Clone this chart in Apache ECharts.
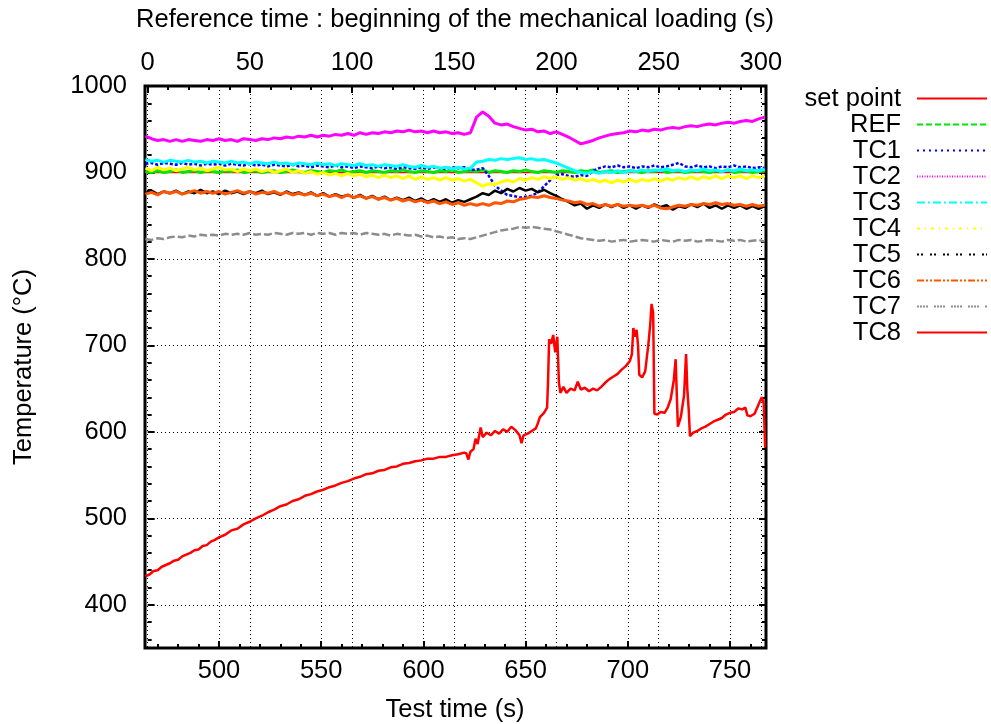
<!DOCTYPE html>
<html><head><meta charset="utf-8">
<script src="https://cdn.jsdelivr.net/npm/echarts@6/dist/echarts.min.js"></script>
<style>html,body{margin:0;padding:0;background:#fff}#c{width:991px;height:724px}</style>
</head><body><div id="c"></div>
<script>
// ---- sampling grid (test time, s) for the thermocouple records ----
const time = [
 464,467,470,473,476,479,482,485,488,491,
 494,497,500,503,506,509,512,515,518,521,
 524,527,530,533,536,539,542,545,548,551,
 554,557,560,563,566,569,572,575,578,581,
 584,587,590,593,596,599,602,605,608,611,
 614,617,620,623,626,629,632,635,638,641,
 644,647,650,653,656,659,662,665,668,671,
 674,677,680,683,686,689,692,695,698,701,
 704,707,710,713,716,719,722,725,728,731,
 734,737,740,743,746,749,752,755,758,761,
 764,767];

const setPointTime = [464, 767];
const setPointTemp = [900, 900];

const ref = [
 901,900,902,900,901,903,900,901,902,900,
 902,901,900,902,901,903,900,901,902,900,
 901,902,900,901,903,901,900,902,901,900,
 902,901,903,900,901,902,900,902,901,900,
 902,901,903,901,900,902,901,900,902,901,
 903,900,901,902,901,903,900,902,901,900,
 902,901,903,901,900,902,901,900,902,901,
 900,902,901,903,900,901,902,900,901,902,
 901,900,902,901,903,900,901,902,900,901,
 902,901,900,902,901,903,900,901,902,900,
 901,902];

const tc1 = [
 910,911,909,911,910,909,911,909,910,908,
 910,909,910,908,910,909,908,910,908,909,
 907,909,908,907,909,907,908,906,908,907,
 906,908,906,907,905,907,906,905,907,905,
 906,904,906,905,904,906,904,906,905,904,
 906,905,906,903,903,905,896,885,879,874,
 873,871,872,873,877,884,891,897,898,896,
 895,897,896,902,905,907,906,908,906,907,
 905,907,906,908,906,907,909,911,907,906,
 908,906,907,905,907,906,908,906,907,905,
 906,905];

const tc2 = [
 942,939,937,938,936,938,936,938,937,936,
 938,937,939,937,938,936,939,938,937,939,
 938,940,939,941,940,942,941,943,941,943,
 942,944,943,945,943,946,944,946,945,947,
 946,948,947,949,947,948,946,948,946,947,
 945,946,944,946,964,970,965,957,955,956,
 953,951,949,950,947,948,945,947,944,941,
 937,933,935,937,940,942,944,945,946,948,
 947,949,948,950,949,951,952,951,953,954,
 953,955,956,955,957,958,957,959,960,959,
 962,964];

const tc3 = [
 915,913,914,912,914,913,912,914,912,913,
 911,913,912,911,913,911,912,910,912,911,
 910,912,910,911,909,911,910,909,911,909,
 910,908,910,909,908,910,908,909,907,909,
 908,907,909,907,906,908,906,907,905,906,
 904,906,904,905,912,913,915,914,916,915,
 916,917,915,916,914,915,913,911,908,905,
 902,900,899,901,899,901,900,902,900,902,
 901,903,901,903,902,904,902,903,901,903,
 902,904,902,903,901,903,902,904,902,903,
 902,904];

const tc4 = [
 905,902,906,903,905,902,904,906,903,905,
 902,904,906,903,904,901,904,902,904,901,
 903,900,902,904,900,902,899,901,898,900,
 897,899,896,899,896,898,895,897,894,897,
 894,896,893,896,892,895,892,894,891,894,
 891,893,890,892,888,884,887,886,889,891,
 889,893,891,894,892,895,893,895,892,894,
 891,893,890,892,889,891,888,891,889,892,
 889,892,890,893,890,893,891,894,892,895,
 892,895,893,896,893,896,894,896,893,896,
 894,896];

const tc5 = [
 876,879,875,878,876,879,875,878,876,880,
 876,878,875,879,876,878,875,878,876,879,
 875,877,874,878,875,877,874,877,873,876,
 872,875,872,874,871,874,870,873,869,872,
 868,871,868,871,867,870,866,869,866,869,
 865,868,866,869,872,876,874,879,876,881,
 878,882,879,881,877,880,876,873,869,866,
 862,864,858,862,859,863,860,863,859,862,
 858,862,859,863,860,862,857,861,859,863,
 860,864,859,862,858,862,859,862,858,861,
 858,861];

const tc6 = [
 875,877,874,878,876,878,875,877,879,876,
 878,876,878,875,877,879,876,878,875,877,
 876,878,875,877,874,876,874,876,873,875,
 872,874,871,874,871,873,870,872,869,871,
 868,870,867,869,866,868,865,867,864,866,
 863,865,862,864,862,864,862,865,864,867,
 866,869,870,872,871,873,871,870,868,867,
 865,866,863,864,861,863,861,863,861,862,
 861,862,860,862,859,858,860,862,861,863,
 862,864,863,865,863,864,862,863,861,863,
 861,862];

const tc7 = [
 823,822,824,823,825,826,825,827,826,828,
 827,828,827,829,828,829,828,830,828,829,
 828,830,829,828,830,829,830,828,830,829,
 830,828,830,829,830,828,830,829,828,829,
 827,829,828,827,828,826,827,825,826,824,
 825,823,824,823,825,827,829,831,833,834,
 835,837,836,837,836,835,834,832,830,828,
 826,824,823,822,821,822,820,821,822,820,
 821,822,821,820,822,821,820,822,821,822,
 820,821,822,821,820,822,821,822,820,821,
 822,820];

const tc8Time = [
 464,466,468,470,472,474,476,478,480,482,484,486,488,490,492,494,496,498,500,
 503,506,509,512,515,518,521,524,527,530,533,536,539,542,545,548,551,554,557,
 560,563,566,569,572,575,578,581,584,587,590,593,596,599,602,605,608,611,614,
 617,620,621,622,623,624.5,625.5,626.5,628,629,631,633,635,637,639,641,643,645,
 647,648,649,651,653,655,656,657,659,660.5,661,661.5,662.5,663.5,664.5,665.5,
 666.3,667,668.5,670,672,674,675.5,677,679,681,683,685,687,689,691,693,695,697,
 699,701,702,702.7,703.5,704.3,705,705.6,707,708.5,710,711,711.6,712.4,713,
 714.5,716,718,719.5,721,722.5,723.4,724,724.5,726,727.5,728.5,729.1,729.8,
 730.4,732,734,736,738,740,742,744,746,748,750,752,754,756,757.5,758.5,760,762,
 764,765.5,766.5,767.2];
const tc8Temp = [
 433,435,439,440,444,446,448,451,452,456,458,460,463,464,468,469,473,475,478,
 481,486,488,493,496,500,503,507,510,514,516,520,522,526,528,531,533,536,538,
 541,543,546,548,551,552,555,556,559,560,563,564,566,567,569,569,571,571,573,
 574,576,575,568,577,580,592,586,605,594,599,596,601,598,603,600,606,602,
 596,587,596,598,601,604,610,617,622,628,660,707,702,712,692,710,
 657,645,652,645,650,648,658,649,651,647,650,648,652,657,661,664,667,672,
 676,682,690,720,710,718,700,666,663,670,700,725,748,738,621,
 620,623,622,628,638,660,684,640,606,618,642,690,650,625,
 595,599,601,604,606,609,612,614,616,620,622,623,627,626,628,619,618,621,
 632,640,633,582];

// ---- tick values ----
const xMajor = [500,550,600,650,700,750];
const xMinor = [470,480,490,510,520,530,540,560,570,580,590,610,620,630,640,660,670,680,690,710,720,730,740,760];
const topMajor = [0,50,100,150,200,250,300];
const topMinor = [10,20,30,40,60,70,80,90,110,120,130,140,160,170,180,190,210,220,230,240,260,270,280,290];
const yMajor = [400,500,600,700,800,900,1000];
const yMinor = [360,380,420,440,460,480,520,540,560,580,620,640,660,680,720,740,760,780,820,840,860,880,920,940,960,980];

const xMin = 463.8, xMax = 767.6;   // test time range
const topOffset = 465.1;            // reference time = test time - offset
const yMin = 350, yMax = 1000;

const FONT = '"Liberation Sans", Arial, sans-serif';
const FS = 25.5;

const defs = [
  {name:'set point', t:setPointTime, v:setPointTemp, color:'#ff0000', plot:'solid', leg:'solid', w:1.5},
  {name:'REF', t:time, v:ref, color:'#00e600', plot:'solid', leg:[6,3], w:3},
  {name:'TC1', t:time, v:tc1, color:'#0000ff', plot:[3,2], leg:[2,4], w:2.5},
  {name:'TC2', t:time, v:tc2, color:'#ff00ff', plot:'solid', leg:[1,1.5], w:3},
  {name:'TC3', t:time, v:tc3, color:'#00ffff', plot:'solid', leg:[8,3,2,3], w:3},
  {name:'TC4', t:time, v:tc4, color:'#ffff00', plot:'solid', leg:[3,5,1,5], w:3},
  {name:'TC5', t:time, v:tc5, color:'#000000', plot:'solid', leg:[2,2,2,7], w:2.5},
  {name:'TC6', t:time, v:tc6, color:'#ff5500', plot:'solid', leg:[7,2,2,2,2,2], w:3},
  {name:'TC7', t:time, v:tc7, color:'#8c8c8c', plot:[8,3], leg:[2,1,2,1,2,1,2,6], w:2.5},
  {name:'TC8', t:tc8Time, v:tc8Temp, color:'#ff0000', plot:'solid', leg:'solid', w:2.5}
];

const pair = (ts, vs) => ts.map((t, i) => [t, vs[i]]);
const dotted = {color:'#000', width:1, type:[1,3]};
const tickStyle = {color:'#000', width:2};
const lbl = (vals, margin) => ({show:true, customValues:vals, fontSize:FS, color:'#000',
  fontFamily:FONT, margin:margin, formatter:(v) => String(Math.round(v))});

function axis(o) {
  return Object.assign({type:'value', axisLine:{show:false}, splitLine:{show:false},
    axisLabel:{show:false}, axisTick:{show:false}}, o);
}

const chart = echarts.init(document.getElementById('c'), null, {renderer:'canvas'});
chart.setOption({
  animation:false,
  backgroundColor:'#ffffff',
  grid:{left:145, right:225, top:86, bottom:76, show:true, borderColor:'#000', borderWidth:3, backgroundColor:'transparent'},
  xAxis:[
    axis({position:'bottom', min:xMin, max:xMax,
      axisTick:{show:true, inside:true, length:7, customValues:xMajor, lineStyle:tickStyle},
      axisLabel:lbl(xMajor, 10), splitLine:{show:true, lineStyle:dotted}}),
    axis({position:'bottom', min:xMin, max:xMax,
      axisTick:{show:true, inside:true, length:4, customValues:xMinor, lineStyle:tickStyle}}),
    axis({position:'top', min:xMin - topOffset, max:xMax - topOffset,
      axisTick:{show:true, inside:true, length:7, customValues:topMajor, lineStyle:tickStyle},
      axisLabel:lbl(topMajor, 10), splitLine:{show:true, lineStyle:dotted}}),
    axis({position:'top', min:xMin - topOffset, max:xMax - topOffset,
      axisTick:{show:true, inside:true, length:4, customValues:topMinor, lineStyle:tickStyle}})
  ],
  yAxis:[
    axis({position:'left', min:yMin, max:yMax,
      axisTick:{show:true, inside:true, length:7, customValues:yMajor, lineStyle:tickStyle},
      axisLabel:lbl(yMajor, 18), splitLine:{show:true, lineStyle:dotted}}),
    axis({position:'left', min:yMin, max:yMax,
      axisTick:{show:true, inside:true, length:4, customValues:yMinor, lineStyle:tickStyle}}),
    axis({position:'right', min:yMin, max:yMax,
      axisTick:{show:true, inside:true, length:7, customValues:yMajor, lineStyle:tickStyle}}),
    axis({position:'right', min:yMin, max:yMax,
      axisTick:{show:true, inside:true, length:4, customValues:yMinor, lineStyle:tickStyle}})
  ],
  legend:{
    orient:'vertical', right:3, top:85.5, align:'right', padding:0,
    itemWidth:70, itemHeight:25.5, itemGap:0, selectedMode:false,
    itemStyle:{opacity:0, borderWidth:0},
    textStyle:{fontSize:FS, color:'#000', fontFamily:FONT, lineHeight:25.5, padding:[0,11,0,0]},
    data: defs.map(d => ({name:d.name, itemStyle:{opacity:0, borderWidth:0},
      lineStyle:{color:d.color, width:2, type:d.leg}}))
  },
  graphic:[
    {type:'text', x:455, y:20, style:{text:'Reference time : beginning of the mechanical loading (s)',
      fontSize:FS, fontFamily:FONT, fill:'#000', align:'center', verticalAlign:'middle'}},
    {type:'text', x:455, y:710, style:{text:'Test time (s)',
      fontSize:FS, fontFamily:FONT, fill:'#000', align:'center', verticalAlign:'middle'}},
    {type:'text', x:24, y:367, rotation:Math.PI/2, style:{text:'Temperature (°C)',
      fontSize:FS, fontFamily:FONT, fill:'#000', align:'center', verticalAlign:'middle'}}
  ],
  series: defs.map(d => ({
    name:d.name, type:'line', xAxisIndex:0, yAxisIndex:0, data:pair(d.t, d.v),
    symbol:'none', showSymbol:false, silent:true, clip:true,
    lineStyle:{color:d.color, width:d.w, type:d.plot}, itemStyle:{color:d.color}
  }))
});
</script>
</body></html>
